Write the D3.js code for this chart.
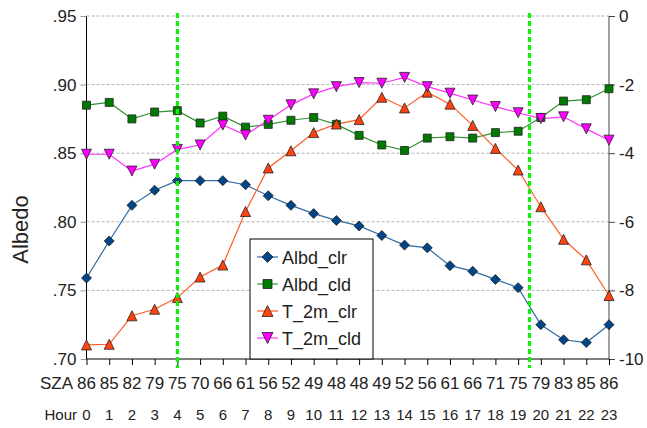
<!DOCTYPE html>
<html>
<head>
<meta charset="utf-8">
<script src="https://cdn.jsdelivr.net/npm/d3@7"></script>
<style>
  html, body { margin: 0; padding: 0; background: #fff; }
  svg { display: block; font-family: "Liberation Sans", Arial, sans-serif; }
</style>
</head>
<body>
<svg id="chart" width="647" height="428"></svg>
<script>
// Hour of day and solar zenith angle for each sample
const hours = [0,1,2,3,4,5,6,7,8,9,10,11,12,13,14,15,16,17,18,19,20,21,22,23];
const sza = [86,85,82,79,75,70,66,61,56,52,49,48,48,49,52,56,61,66,71,75,79,83,85,86];

// Albedo (left axis)
const albdClr = [.759,.786,.812,.823,.830,.830,.830,.827,.819,.812,.806,.801,.797,.790,.783,.781,.768,.764,.758,.752,.725,.714,.712,.725];
const albdCld = [.885,.887,.875,.880,.881,.872,.877,.869,.871,.874,.876,.871,.863,.856,.852,.861,.862,.861,.865,.866,.876,.888,.889,.897];

// 2 m temperature (right axis)
const t2mClr = [-9.59,-9.57,-8.74,-8.55,-8.21,-7.61,-7.26,-5.70,-4.43,-3.93,-3.40,-3.15,-3.02,-2.37,-2.68,-2.22,-2.57,-3.19,-3.86,-4.49,-5.56,-6.51,-7.11,-8.15];
const t2mCld = [-4.03,-4.03,-4.52,-4.32,-3.89,-3.76,-3.18,-3.47,-3.04,-2.59,-2.27,-2.06,-1.94,-1.96,-1.79,-2.06,-2.25,-2.45,-2.64,-2.82,-2.99,-2.94,-3.29,-3.62];

const leftTicks = [.70,.75,.80,.85,.90,.95];
const rightTicks = [-10,-8,-6,-4,-2,0];
const markerHours = [4, 19.5];

const svg = d3.select("#chart");
const L = 86.5, R = 609, T = 16, B = 359;

const x = d3.scaleLinear().domain([0, 23]).range([L, R]);
const yL = d3.scaleLinear().domain([0.70, 0.95]).range([B, T]);
const yR = d3.scaleLinear().domain([-10, 0]).range([B, T]);

// horizontal grid
svg.append("g").selectAll("line")
  .data(leftTicks.filter(d => d > 0.70))
  .join("line")
  .attr("x1", L).attr("x2", R)
  .attr("y1", d => yL(d)).attr("y2", d => yL(d))
  .attr("stroke", "#b3b3b3").attr("stroke-width", 1)
  .attr("stroke-dasharray", "3,2");

// left axis
const leftAxis = d3.axisLeft(yL).tickValues(leftTicks)
  .tickFormat(d => d3.format(".2f")(d).replace(/^0/, ""))
  .tickSize(6).tickPadding(4);
const gl = svg.append("g").attr("transform", `translate(${L},0)`).call(leftAxis);
gl.select(".domain").attr("stroke", "#000").attr("d", `M0,${T}V${B}`);
gl.selectAll(".tick line").attr("stroke", "#999");
gl.selectAll(".tick text").attr("font-size", 17).attr("fill", "#222")
  .attr("font-family", "Liberation Sans, Arial, sans-serif");

// right axis
const rightAxis = d3.axisRight(yR).tickValues(rightTicks).tickSize(6).tickPadding(4)
  .tickFormat(d => d3.format("d")(d).replace("−", "-"));
const gr = svg.append("g").attr("transform", `translate(${R},0)`).call(rightAxis);
gr.select(".domain").attr("stroke", "#444").attr("d", `M0,${T}V${B}`);
gr.selectAll(".tick line").attr("stroke", "#444");
gr.selectAll(".tick text").attr("font-size", 17).attr("fill", "#222")
  .attr("font-family", "Liberation Sans, Arial, sans-serif");

// bottom axis
const bottomAxis = d3.axisBottom(x).tickValues(hours).tickSize(6).tickFormat("");
const gb = svg.append("g").attr("transform", `translate(0,${B})`).call(bottomAxis);
gb.select(".domain").attr("stroke", "#000").attr("d", `M${L},0H${R}`);
gb.selectAll(".tick line").attr("stroke", "#000");

// SZA and hour label rows
svg.append("text").attr("x", 73).attr("y", 389).attr("text-anchor", "end")
  .attr("font-size", 17).attr("fill", "#222").text("SZA");
svg.append("g").selectAll("text").data(sza).join("text")
  .attr("x", (d, i) => x(hours[i])).attr("y", 389).attr("text-anchor", "middle")
  .attr("font-size", 17).attr("fill", "#222").text(d => d);
svg.append("text").attr("x", 77).attr("y", 420).attr("text-anchor", "end")
  .attr("font-size", 15).attr("fill", "#222").text("Hour");
svg.append("g").selectAll("text").data(hours).join("text")
  .attr("x", d => x(d)).attr("y", 420).attr("text-anchor", "middle")
  .attr("font-size", 15).attr("fill", "#222").text(d => d);

// axis title
svg.append("text").attr("transform", `translate(28,${(T + B) / 2 + 42}) rotate(-90)`)
  .attr("text-anchor", "middle").attr("font-size", 22).attr("fill", "#222").text("Albedo");

// marker shapes
const shapes = {
  diamond: r => `M0,${-r}L${r},0L0,${r}L${-r},0Z`,
  square: r => `M${-r},${-r}H${r}V${r}H${-r}Z`,
  up: r => `M0,${-r}L${r},${r}H${-r}Z`,
  down: r => `M0,${r}L${r},${-r}H${-r}Z`
};

const series = [
  { name: "Albd_clr", values: albdClr, y: yL, line: "#2f6aa3", fill: "#004586", shape: "diamond", r: 5 },
  { name: "Albd_cld", values: albdCld, y: yL, line: "#2f912f", fill: "#007a00", shape: "square", r: 4 },
  { name: "T_2m_clr", values: t2mClr, y: yR, line: "#ff5a26", fill: "#ff420e", shape: "up", r: 5 },
  { name: "T_2m_cld", values: t2mCld, y: yR, line: "#ff33ff", fill: "#ff00ff", shape: "down", r: 5 }
];

const plot = svg.append("g");
series.forEach(s => {
  const line = d3.line().x((d, i) => x(hours[i])).y(d => s.y(d));
  plot.append("path").datum(s.values).attr("d", line)
    .attr("fill", "none").attr("stroke", s.line).attr("stroke-width", 1.2);
});
series.forEach(s => {
  plot.append("g").selectAll("path").data(s.values).join("path")
    .attr("transform", (d, i) => `translate(${x(hours[i])},${s.y(d)})`)
    .attr("d", shapes[s.shape](s.r))
    .attr("fill", s.fill).attr("stroke", "#222").attr("stroke-width", 0.8);
});

// vertical reference lines
svg.append("g").selectAll("line").data(markerHours).join("line")
  .attr("x1", d => x(d)).attr("x2", d => x(d))
  .attr("y1", 13).attr("y2", 368)
  .attr("stroke", "#11ee11").attr("stroke-width", 3.2)
  .attr("stroke-dasharray", "5,3");

// legend
const lg = svg.append("g").attr("transform", "translate(250,239)");
lg.append("rect").attr("x", 0).attr("y", 0).attr("width", 123).attr("height", 120)
  .attr("fill", "#fff").attr("stroke", "#000").attr("stroke-width", 1);
series.forEach((s, i) => {
  const cy = 18 + i * 27;
  lg.append("line").attr("x1", 7).attr("x2", 28).attr("y1", cy).attr("y2", cy)
    .attr("stroke", s.line).attr("stroke-width", 1.2);
  lg.append("path").attr("transform", `translate(17.5,${cy})`)
    .attr("d", shapes[s.shape](s.r + 0.5))
    .attr("fill", s.fill).attr("stroke", "#222").attr("stroke-width", 0.8);
  lg.append("text").attr("x", 32).attr("y", cy + 6.5)
    .attr("font-size", 18).attr("fill", "#222").text(s.name);
});
</script>
</body>
</html>
